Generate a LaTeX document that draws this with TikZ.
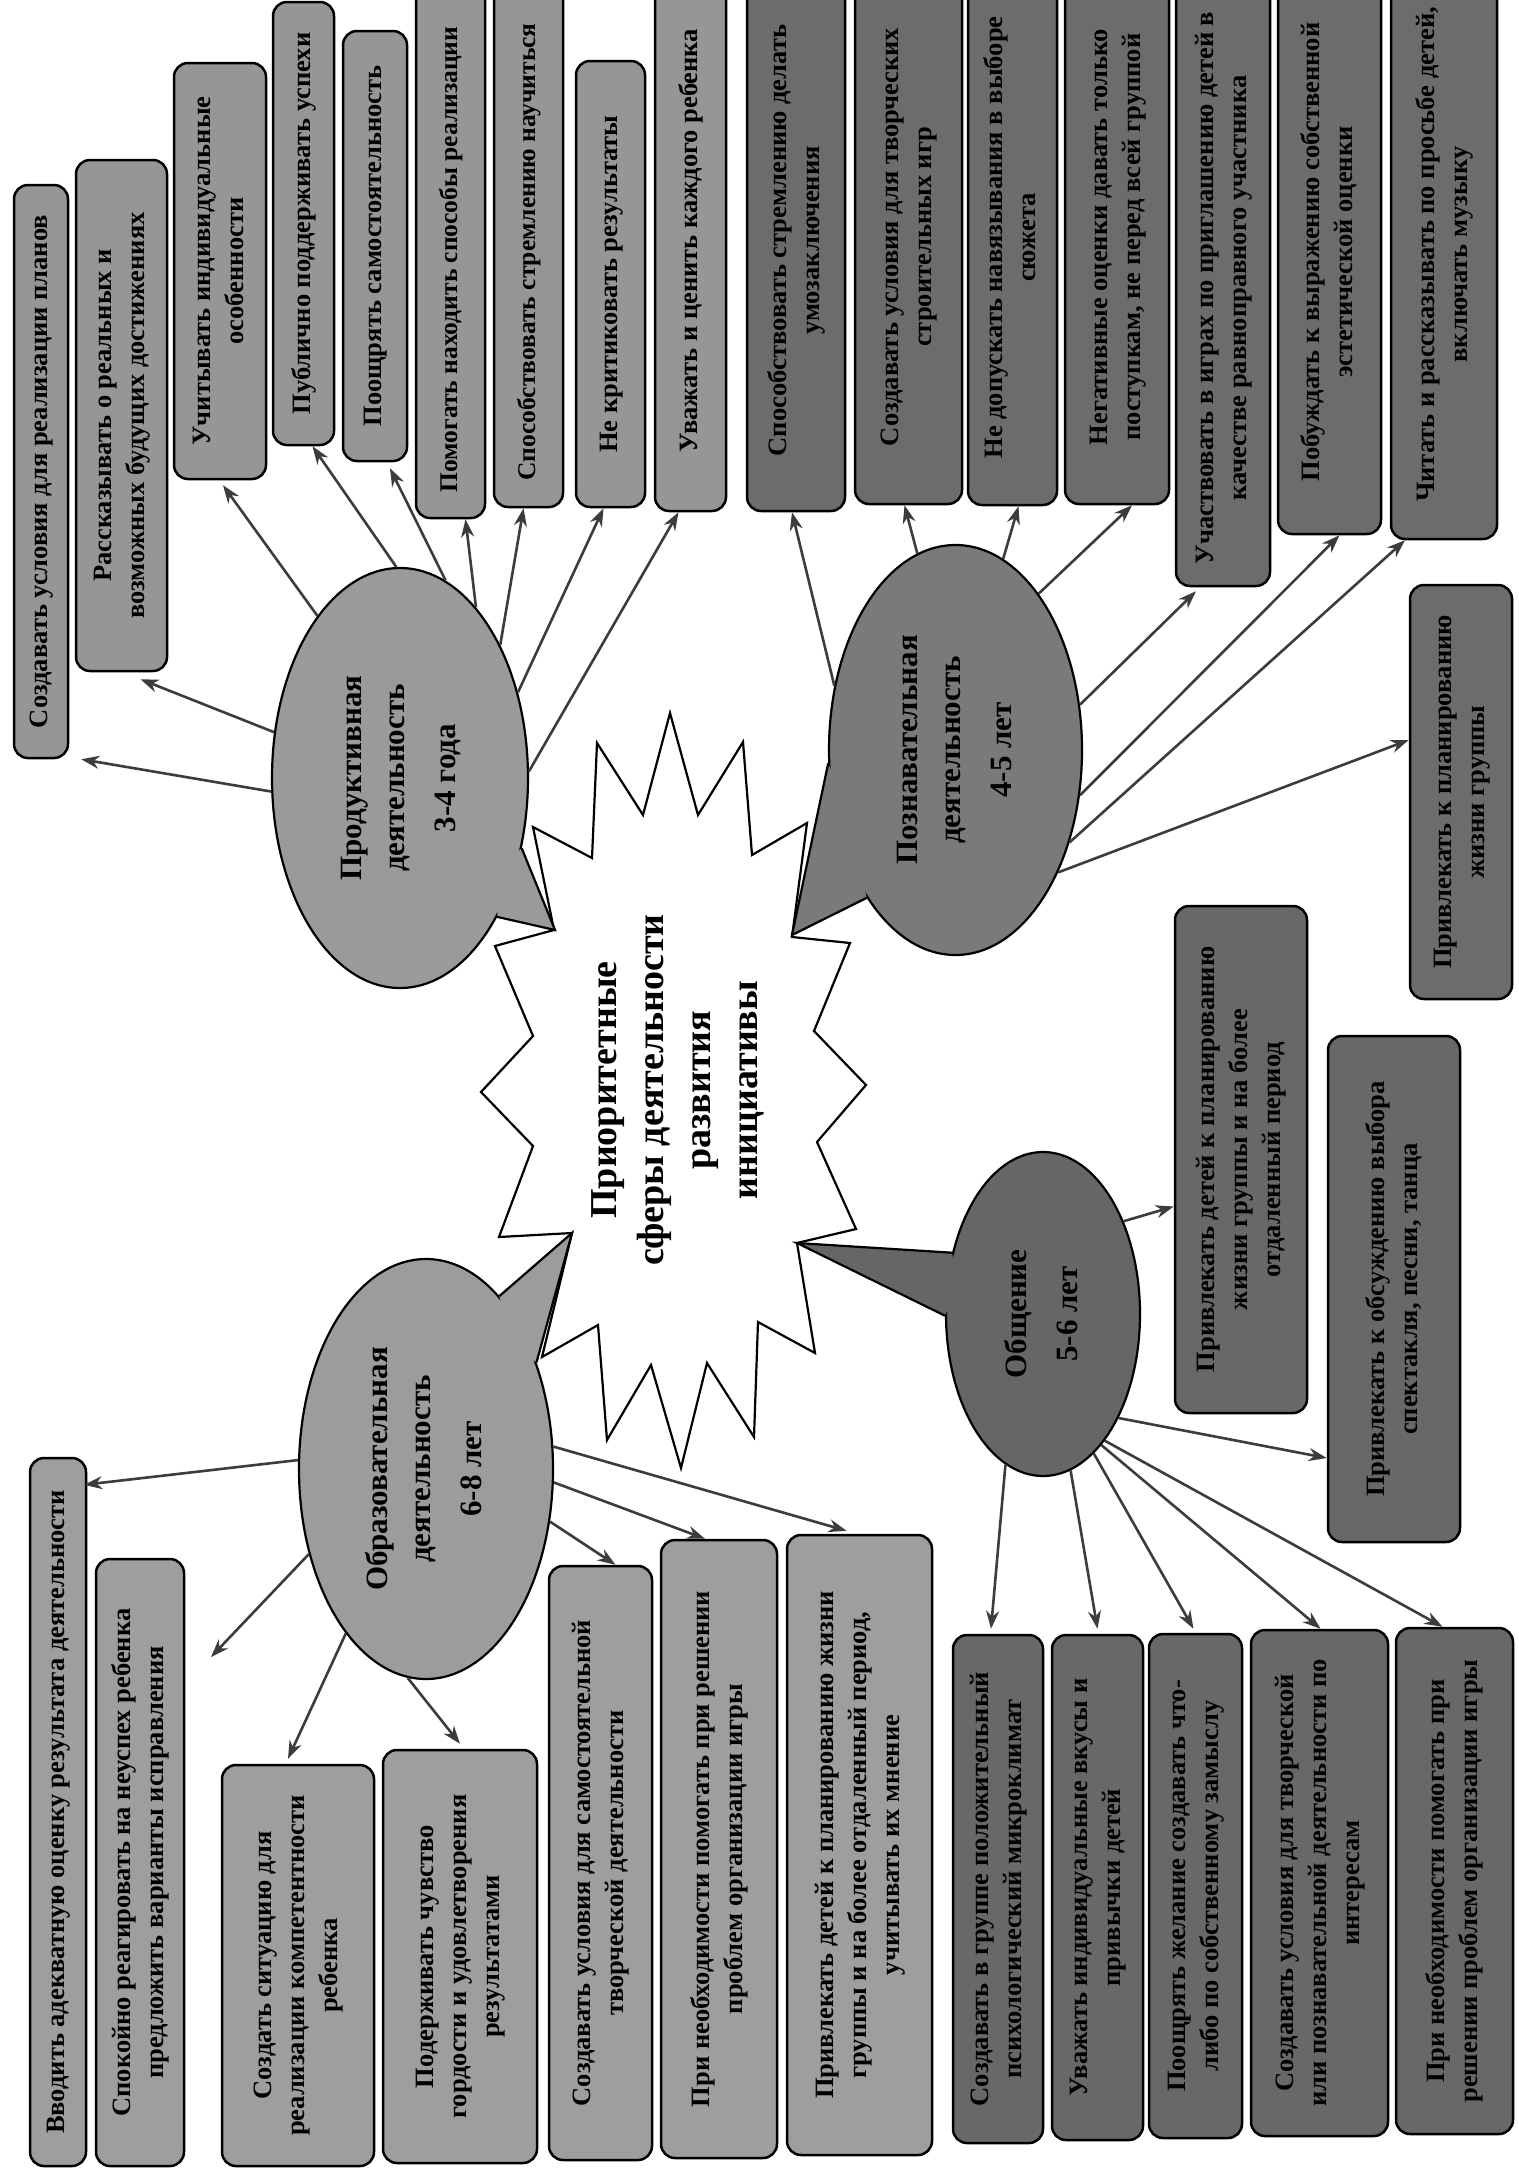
\documentclass[tikz,border=0pt]{standalone}
\usepackage{fontspec}
\setmainfont{Liberation Serif}
\usepackage{graphicx}
\usetikzlibrary{shapes.geometric,arrows.meta,calc}
\definecolor{lg}{HTML}{969696}
\definecolor{dg}{HTML}{6C6C6C}
\definecolor{cg}{HTML}{9E9E9E}
\definecolor{eg}{HTML}{686868}
\definecolor{pg}{HTML}{9A9A9A}
\definecolor{kg}{HTML}{7A7A7A}
\definecolor{og}{HTML}{9C9C9C}
\definecolor{gg}{HTML}{666666}
\definecolor{ln}{HTML}{3C3C3C}
\newcommand\vt[1]{\rotatebox{90}{\begin{tabular}{@{}c@{}}#1\end{tabular}}}
\newcommand\bxf{\fontsize{26.5}{33}\selectfont\bfseries}
\newcommand\smf{\fontsize{25.5}{32}\selectfont}
\newcommand\elf{\fontsize{31}{43}\selectfont\bfseries}
\newcommand\titlef{\fontsize{38}{47}\selectfont\bfseries}
% #1 style, #2 name, #3 x1, #4 y1, #5 x2, #6 y2, #7 text
\newcommand\bxnode[7]{%
  \pgfmathsetmacro\bxcx{(#3+#5)/2}%
  \pgfmathsetmacro\bxcy{(#4+#6)/2}%
  \pgfmathsetmacro\bxw{#5-#3}%
  \pgfmathsetmacro\bxh{#6-#4}%
  \node[#1, minimum width=\bxw pt, minimum height=\bxh pt] (#2) at (\bxcx,\bxcy) {\vt{#7}};}
\tikzset{
  bx/.style={draw=black, line width=2.5pt, rounded corners=14pt, inner sep=0pt, font=\bxf},
  lbox/.style={bx, fill=lg},
  dbox/.style={bx, fill=dg},
  cbox/.style={bx, fill=cg},
  ebox/.style={bx, fill=eg},
  bub/.style={ellipse, draw=black, line width=2.2pt, inner sep=0pt, font=\elf},
  arr/.style={draw=ln, line width=2.6pt, -{Stealth[length=18pt,width=13pt]}},
  tailedge/.style={draw=black, line width=2.2pt, line join=miter},
}
\begin{document}
\begin{tikzpicture}[x=1pt,y=-1pt]
\useasboundingbox (0,0) rectangle (1518,2168);
\fill[white] (0,0) rectangle (1518,2168);
\begin{scope}
\clip (0,0) rectangle (1518,2168);

% central star
\draw[line width=2.2pt, fill=white, line join=miter]
 (533,827) -- (592,858) -- (597,743) -- (643,815) -- (670,713) -- (698,815)
 -- (743,742) -- (752,855) -- (807,823) -- (792,937) -- (850,943) -- (814,1031)
 -- (866,1085) -- (817,1142) -- (856,1229) -- (797,1243) -- (815,1353) -- (758,1322)
 -- (754,1437) -- (707,1363) -- (681,1468) -- (651,1365) -- (607,1440) -- (598,1325)
 -- (542,1357) -- (572,1233) -- (499,1237) -- (533,1146) -- (481,1092) -- (533,1036)
 -- (495,946) -- (554,930) -- cycle;
\node[font=\titlef] (title) at (678,1090) {\vt{Приоритетные\\сферы деятельности\\развития\\инициативы}};

% bubbles
\bxnode{bub, fill=pg}{P}{272}{568}{528}{988}{Продуктивная\\деятельность\\[8pt]3-4 года}
\coordinate (Ptip) at (555,930);
\fill[pg] (P.-30) -- (Ptip) -- (P.-55) -- ($(P.-42)!0.12!(P.center)$) -- cycle;
\draw[tailedge] (P.-30) -- (Ptip) -- (P.-55);

\bxnode{bub, fill=kg}{K}{829}{545}{1082}{955}{Познавательная\\деятельность\\[8pt]4-5 лет}
\coordinate (Ktip) at (792,935);
\fill[kg] (K.186) -- (Ktip) -- (K.239) -- ($(K.212)!0.12!(K.center)$) -- cycle;
\draw[tailedge] (K.186) -- (Ktip) -- (K.239);

\bxnode{bub, fill=og}{O}{299}{1259}{553}{1679}{Образовательная\\деятельность\\[8pt]6-8 лет}
\coordinate (Otip) at (572,1233);
\fill[og] (O.67) -- (Otip) -- (O.44) -- ($(O.55)!0.12!(O.center)$) -- cycle;
\draw[tailedge] (O.67) -- (Otip) -- (O.44);

\bxnode{bub, fill=gg}{G}{946}{1152}{1140}{1476}{Общение\\[8pt]5-6 лет}
\coordinate (Gtip) at (797,1243);
\fill[gg] (G.146) -- (Gtip) -- (G.181) -- ($(G.163)!0.12!(G.center)$) -- cycle;
\draw[tailedge] (G.146) -- (Gtip) -- (G.181);

% boxes: Продуктивная
\bxnode{lbox}{A1}{14}{185}{68}{758}{Создавать условия для реализации планов}
\bxnode{lbox}{A2}{76}{160}{167}{671}{Рассказывать о реальных и\\возможных будущих достижениях}
\bxnode{lbox}{A3}{174}{63}{266}{479}{Учитывать индивидуальные\\особенности}
\bxnode{lbox}{A4}{273}{2}{334}{445}{Публично поддерживать успехи}
\bxnode{lbox}{A5}{343}{31}{407}{461}{Поощрять самостоятельность}
\bxnode{lbox}{A6}{416}{-30}{485}{518}{\smf Помогать находить способы реализации\rule{31pt}{0pt}}
\bxnode{lbox}{A7}{494}{-30}{563}{507}{\smf Способствовать стремлению научиться\rule{27pt}{0pt}}
\bxnode{lbox}{A8}{576}{61}{645}{507}{Не критиковать результаты}
\bxnode{lbox}{A9}{655}{-30}{726}{511}{Уважать и ценить каждого ребенка}

% boxes: Познавательная
\bxnode{dbox}{B1}{747}{-30}{845}{511}{Способствовать стремлению делать\\умозаключения}
\bxnode{dbox}{B2}{855}{-30}{962}{504}{Создавать условия для творческих\\строительных игр}
\bxnode{dbox}{B3}{968}{-30}{1057}{505}{Не допускать навязывания в выборе\\сюжета}
\bxnode{dbox}{B4}{1065}{-30}{1169}{504}{Негативные оценки давать только\\поступкам, не перед всей группой}
\bxnode{dbox}{B5}{1176}{-30}{1270}{586}{Участвовать в играх по приглашению детей в\rule{20pt}{0pt}\\качестве равноправного участника\rule{20pt}{0pt}}
\bxnode{dbox}{B6}{1278}{-30}{1381}{534}{Побуждать к выражению собственной\\эстетической оценки}
\bxnode{dbox}{B7}{1391}{-30}{1497}{539}{Читать и рассказывать по просьбе детей,\\включать музыку}
\bxnode{dbox}{B8}{1410}{585}{1512}{999}{Привлекать к планированию\\жизни группы}

% boxes: Образовательная
\bxnode{cbox}{C1}{30}{1458}{86}{2166}{Вводить адекватную оценку результата деятельности}
\bxnode{cbox}{C2}{96}{1559}{184}{2166}{Спокойно реагировать на неуспех ребенка\\предложить варианты исправления}
\bxnode{cbox}{C3}{222}{1765}{374}{2166}{Создать ситуацию для\\реализации компетентности\\ребенка}
\bxnode{cbox}{C4}{383}{1750}{537}{2163}{Подерживать чувство\\гордости и удовлетворения\\результатами}
\bxnode{cbox}{C5}{549}{1566}{652}{2160}{Создавать условия для самостоятельной\\творческой деятельности}
\bxnode{cbox}{C6}{661}{1540}{777}{2158}{При необходимости помогать при решении\\проблем организации игры}
\bxnode{cbox}{C7}{787}{1535}{932}{2155}{Привлекать детей к планированию жизни\\группы и на более отдаленный период,\\учитывать их мнение}

% boxes: Общение
\bxnode{ebox}{D1}{953}{1635}{1043}{2143}{Создавать в группе положительный\\психологический микроклимат}
\bxnode{ebox}{D2}{1052}{1635}{1143}{2140}{Уважать индивидуальные вкусы и\\привычки детей}
\bxnode{ebox}{D3}{1149}{1634}{1242}{2138}{Поощрять желание создавать что-\\либо по собственному замыслу}
\bxnode{ebox}{D4}{1251}{1630}{1388}{2136}{Создавать условия для творческой\\или познавательной деятельности по\\интересам}
\bxnode{ebox}{D5}{1396}{1628}{1513}{2134}{При необходимости помогать при\\решении проблем организации игры}
\bxnode{ebox}{D6}{1175}{906}{1307}{1413}{Привлекать детей к планированию\\жизни группы и на более\\отдаленный период}
\bxnode{ebox}{D7}{1328}{1036}{1460}{1542}{Привлекать к обсуждению выбора\\спектакля, песни, танца}

% arrows Продуктивная
\draw[arr] (P.186) -- ([xshift=12pt]A1.south east);
\draw[arr] (P.160) -- ([xshift=19pt,yshift=-7pt]A2.south);
\draw[arr] (P.117) -- ([xshift=3pt,yshift=-5pt]A3.south);
\draw[arr] (P.91) -- ([xshift=9pt]A4.south);
\draw[arr] (P.77) -- ([xshift=15pt,yshift=-6pt]A5.south);
\draw[arr] (P.66) -- ([xshift=15pt]A6.south);
\draw[arr] (P.53) -- ([xshift=-5pt]A7.south);
\draw[arr] (P.36) -- ([xshift=-7pt]A8.south);
\draw[arr] (P.3) -- ([xshift=-12pt]A9.south);

% arrows Познавательная
\draw[arr] (K.152) -- ([xshift=-4pt]B1.south);
\draw[arr] (K.101) -- ([xshift=-4pt]B2.south);
\draw[arr] (K.76) -- ([xshift=6pt]B3.south);
\draw[arr] (K.62) -- ([xshift=15pt]B4.south);
\draw[arr] (K.20) -- ([xshift=-27pt,yshift=-4pt]B5.south);
\draw[arr] (K.-20) -- ([xshift=10pt]B6.south);
\draw[arr] (K.-39) -- ([xshift=-39pt]B7.south);
\draw[arr] (K.-50) -- ([yshift=52pt]B8.west);

% arrows Образовательная
\coordinate (C2end) at (211,1657);
\draw[arr] (O.176) -- ([xshift=-3pt,yshift=-28pt]C1.north east);
\draw[arr] (O.216) -- (C2end);
\draw[arr] (O.244) -- ([xshift=-10pt,yshift=5pt]C3.north);
\draw[arr] (O.265) -- ([yshift=5pt]C4.north);
\draw[arr] (O.337) -- ([xshift=15pt]C5.north);
\draw[arr] (O.354) -- ([xshift=-14pt]C6.north);
\draw[arr] (O.10) -- ([xshift=-13pt,yshift=3pt]C7.north);

% arrows Общение
\draw[arr] (G.256) -- ([xshift=-7pt,yshift=5pt]D1.north);
\draw[arr] (G.280) -- ([yshift=5pt]D2.north);
\draw[arr] (G.290) -- ([xshift=-2pt,yshift=4pt]D3.north);
\draw[arr] (G.294) -- ([xshift=1pt]D4.north);
\draw[arr] (G.296) -- ([xshift=-12pt]D5.north);
\draw[arr] (G.49) -- ([yshift=-47pt]D6.west);
\draw[arr] (G.-54) -- ([yshift=-169pt]D7.west);
\end{scope}
\end{tikzpicture}
\end{document}
